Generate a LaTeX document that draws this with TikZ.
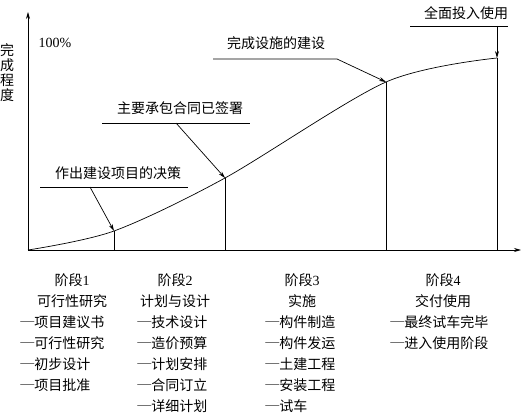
\documentclass[tikz,border=0pt]{standalone}
\usepackage{fontspec}
\setmainfont{Liberation Serif}
\newfontfamily\cjk{Noto Sans CJK SC}
\usetikzlibrary{arrows.meta}
\tikzstyle{txt}=[inner sep=0, font=\cjk\fontsize{14}{15}\selectfont]
\tikzstyle{ar}=[-{Stealth[length=7pt,width=4pt]}]

\begin{document}
\begin{tikzpicture}[x=1pt,y=-1pt,line width=0.7pt]
\useasboundingbox (0,0) rectangle (522,417);
% axes
\coordinate (o) at (28,250);
\coordinate (ytop) at (28,12);
\coordinate (xend) at (521,250);
\draw[ar] (o)--(ytop);
\draw[ar] (o)--(xend);
\draw (7,73) node[txt,align=center](ylab) {完\\成\\程\\度};
\draw (55,43) node[txt,font=\fontsize{14}{15}\selectfont](full) {100\%};
% curve
\coordinate (c1) at (114,231);
\coordinate (c2) at (225,178);
\coordinate (c3) at (386,82);
\coordinate (c4) at (497,58);
\draw plot[smooth] coordinates {(o) (c1) (c2) (c3) (c4)};
\foreach \i in {1,...,4}
	\draw (c\i)--(c\i |- o);
% milestones
\draw (118,173) node[txt](m1) {作出建设项目的决策};
\coordinate (l1) at (40,187);
\coordinate (r1) at (188,187);
\coordinate (a1) at (90,187);
\draw (l1)--(r1);
\draw[ar] (a1)--(c1);
\draw (180,108) node[txt](m2) {主要承包合同已签署};
\coordinate (l2) at (102,123);
\coordinate (r2) at (250,123);
\coordinate (a2) at (176,123);
\draw (l2)--(r2);
\draw[ar] (a2)--(c2);
\draw (276,43) node[txt](m3) {完成设施的建设};
\coordinate (l3) at (213,59);
\coordinate (r3) at (337,59);
\draw[ar] (l3)--(r3)--(c3);
\draw (466,13) node[txt](m4) {全面投入使用};
\coordinate (l4) at (410,26);
\coordinate (r4) at (508,26);
\coordinate (a4) at (497,26);
\draw (l4)--(r4);
\draw[ar] (a4)--(c4);
% stages
\foreach \x/\h/\s [count=\i] in {72/1/可行性研究, 175/2/计划与设计, 302/3/实施, 443/4/交付使用}
	{\draw (\x,285) node[txt,anchor=base](h\i) {阶段{\rmfamily\h}};
	 \draw (\x,306) node[txt,anchor=base](s\i) {\s};}
\foreach \t [count=\j] in {项目建议书, 可行性研究, 初步设计, 项目批准}
	\draw (20,306+21*\j) node[txt,anchor=base west](pa\j) {─\t};
\foreach \t [count=\j] in {技术设计, 造价预算, 计划安排, 合同订立, 详细计划}
	\draw (137,306+21*\j) node[txt,anchor=base west](pb\j) {─\t};
\foreach \t [count=\j] in {构件制造, 构件发运, 土建工程, 安装工程, 试车}
	\draw (265,306+21*\j) node[txt,anchor=base west](pc\j) {─\t};
\foreach \t [count=\j] in {最终试车完毕, 进入使用阶段}
	\draw (390,306+21*\j) node[txt,anchor=base west](pd\j) {─\t};
\end{tikzpicture}
\end{document}
